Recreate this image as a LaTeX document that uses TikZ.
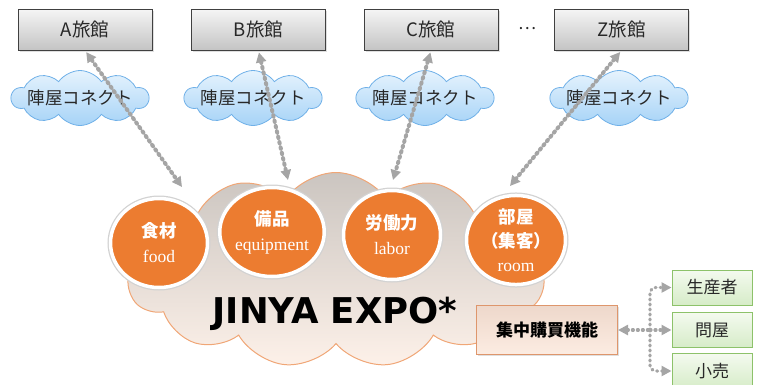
\documentclass[tikz,border=0pt]{standalone}
\usepackage{fontspec}
\setmainfont{Noto Sans CJK JP}
\newfontfamily\serifen{Liberation Serif}
\newfontfamily\expofont{DejaVu Sans}
\usetikzlibrary{shapes.symbols,shapes.geometric,arrows.meta,shadows}
\definecolor{innline}{RGB}{64,64,64}
\definecolor{inntop}{RGB}{245,245,245}
\definecolor{innbot}{RGB}{196,196,196}
\definecolor{txtgray}{RGB}{40,40,40}
\definecolor{cloudline}{RGB}{111,176,232}
\definecolor{cloudtop}{RGB}{230,243,253}
\definecolor{cloudbot}{RGB}{166,211,247}
\definecolor{resorange}{RGB}{236,124,48}
\definecolor{expoline}{RGB}{240,166,118}
\definecolor{expotop}{RGB}{203,197,192}
\definecolor{expobot}{RGB}{253,241,233}
\definecolor{buyline}{RGB}{222,150,108}
\definecolor{buytop}{RGB}{238,216,203}
\definecolor{buybot}{RGB}{252,236,226}
\definecolor{greenline}{RGB}{141,194,106}
\definecolor{greentop}{RGB}{244,250,239}
\definecolor{greenbot}{RGB}{214,236,200}
\definecolor{linkgray}{RGB}{165,165,165}

\begin{document}
\begin{tikzpicture}[x=1pt, y=-1pt, >={Triangle[length=10pt,width=10pt]},
    inn/.style={rectangle, draw=innline, line width=0.9pt, minimum width=134pt, minimum height=41pt,
        top color=inntop, bottom color=innbot, text=txtgray, font=\fontsize{18.5}{20}\selectfont,
        drop shadow={opacity=0.25, shadow xshift=1.5pt, shadow yshift=-1.5pt}},
    jcloud/.style={cloud, cloud puffs=10, cloud puff arc=110, aspect=2.5, minimum width=137pt,
        minimum height=55pt, inner sep=0pt, draw=cloudline, line width=0.8pt,
        top color=cloudtop, bottom color=cloudbot, text=txtgray, font=\fontsize{17.5}{20}\selectfont},
    expocloud/.style={cloud, cloud puffs=13, cloud puff arc=110, aspect=2.3, minimum width=425pt,
        minimum height=195pt, draw=expoline, line width=1pt, top color=expotop, bottom color=expobot},
    res/.style={ellipse, fill=resorange, draw=white, line width=3.5pt, minimum width=97pt,
        minimum height=89pt, inner sep=0pt, align=center, text=white, font=\fontsize{17.5}{25}\selectfont,
        preaction={draw=gray!35, line width=6pt}},
    buy/.style={rectangle, draw=buyline, line width=1pt, minimum width=141pt, minimum height=49pt,
        top color=buytop, bottom color=buybot, font=\bfseries\fontsize{17}{20}\selectfont,
        drop shadow={opacity=0.25, shadow xshift=1.5pt, shadow yshift=-1.5pt}},
    supplier/.style={rectangle, draw=greenline, line width=1pt, minimum width=80pt, minimum height=35pt,
        top color=greentop, bottom color=greenbot, text=txtgray, font=\fontsize{17}{20}\selectfont},
    dotlink/.style={draw=linkgray, line width=4pt, dash pattern=on 1.5pt off 4pt, line cap=round},
    branch/.style={draw=linkgray, line width=3.2pt, dash pattern=on 1pt off 4pt, line cap=round}]
    \useasboundingbox (0,0) rectangle (758,384);

    % Inns and their Jinya Connect clouds
    \foreach \name/\xb/\xc in {A/85/80, B/258.5/253, C/431/425, Z/621.5/619} {
        \node[inn] (inn\name) at (\xb,29.5) {\name 旅館};
        \node[jcloud] (jc\name) at (\xc,98) {\makebox[0pt]{陣屋コネクト}};
    }
    \node[text=txtgray, font=\fontsize{17}{20}\selectfont] (dots) at (527,29) {…};

    % JINYA EXPO cloud
    \node[expocloud] (expo) at (336,270) {};
    \node[res] (food) at (159,243) {\textbf{食材}\\{\serifen food}};
    \node[res] (equip) at (272,232) {\textbf{備品}\\{\serifen equipment}};
    \node[res] (labor) at (392,235) {\textbf{労働力}\\{\serifen labor}};
    \node[res, font=\fontsize{17.5}{24}\selectfont] (room) at (516,240) {\textbf{部屋}\\\textbf{（集客）}\\{\serifen room}};
    \node[font=\expofont\bfseries\fontsize{35.5}{40}\selectfont] (title) at (335,314) {JINYA EXPO*};

    % Links between inns and the expo
    \coordinate (gateA) at (182,187);
    \coordinate (gateB) at (288,180);
    \coordinate (gateC) at (393,180);
    \coordinate (gateZ) at (510,186);
    \foreach \name in {A,B,C,Z} {
        \draw[dotlink, <->, shorten <=2pt] (inn\name.south) -- (gate\name);
    }

    % Central purchasing
    \node[buy] (buying) at (547,330) {集中購買機能};
    \node[supplier] (maker) at (712,287.5) {生産者};
    \node[supplier] (whole) at (712,330) {問屋};
    \node[supplier] (retail) at (712,371) {小売};
    \coordinate (fork) at (650,330);
    \draw[branch, <-] (buying.east) -- (fork);
    \draw[branch, ->] (fork) -- (whole.west);
    \draw[branch, ->, rounded corners=6pt] (fork) |- (maker.west);
    \draw[branch, ->, rounded corners=6pt] (fork) |- (retail.west);
\end{tikzpicture}
\end{document}
